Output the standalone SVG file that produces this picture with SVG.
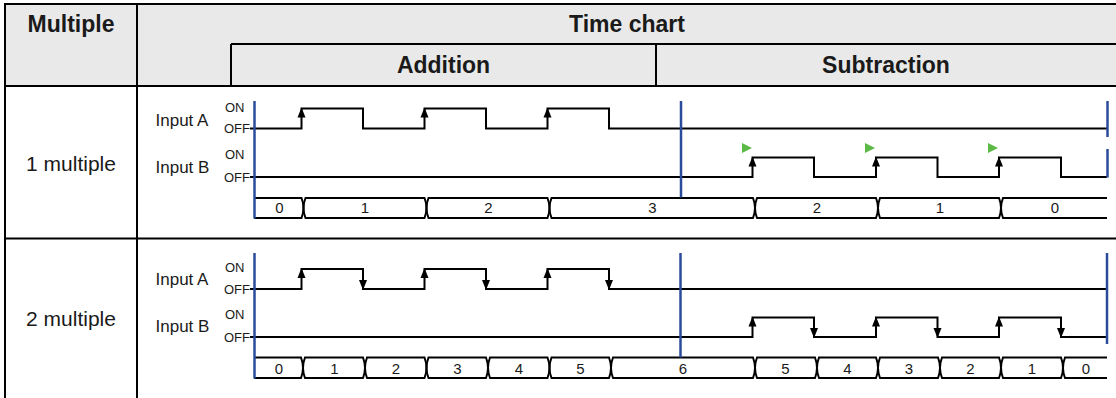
<svg xmlns="http://www.w3.org/2000/svg" xmlns:xlink="http://www.w3.org/1999/xlink" width="1116" height="398" viewBox="0 0 1116 398">
<style>
.grid{stroke:#000;stroke-width:2;fill:none}
.hdr{font-family:"Liberation Sans",Arial,sans-serif;font-weight:bold;font-size:23px;fill:#1a1a1a;text-anchor:middle}
.row{font-family:"Liberation Sans",Arial,sans-serif;font-size:21px;fill:#1a1a1a;text-anchor:middle}
.inp{font-family:"Liberation Sans",Arial,sans-serif;font-size:17px;fill:#1a1a1a}
.lvl{font-family:"Liberation Sans",Arial,sans-serif;font-size:13px;fill:#1a1a1a}
.num{font-family:"Liberation Sans",Arial,sans-serif;font-size:15px;fill:#1a1a1a;text-anchor:middle}
.wave{stroke:#000;stroke-width:2;fill:none;stroke-linejoin:miter}
.bus{stroke:#000;stroke-width:2;fill:none}
.blue{stroke:#2b4c9b;stroke-width:2.5;fill:none}
.arr{fill:#000}
.grn{fill:#5cb946}
</style>
<defs>
<path id="up" class="arr" d="M0,0 L-4,10 L4,10 Z"/>
<path id="dn" class="arr" d="M0,0 L-4,-10 L4,-10 Z"/>
<path id="gt" class="grn" d="M0,-5 L10,0 L0,5 Z"/>
</defs>

<g id="table">
<rect x="5" y="4" width="1112" height="82" fill="#e9e9e9"/>
<line class="grid" x1="4" y1="4" x2="1116" y2="4"/>
<line class="grid" x1="5" y1="4" x2="5" y2="398"/>
<line class="grid" x1="137" y1="4" x2="137" y2="398"/>
<line class="grid" x1="231" y1="44" x2="1116" y2="44"/>
<line class="grid" x1="231" y1="44" x2="231" y2="86"/>
<line class="grid" x1="656" y1="44" x2="656" y2="86"/>
<line class="grid" x1="4" y1="86" x2="1116" y2="86"/>
<line class="grid" x1="4" y1="238.5" x2="1116" y2="238.5"/>
</g>

<g id="header">
<text class="hdr" x="71" y="32">Multiple</text>
<text class="hdr" x="627" y="32">Time chart</text>
<text class="hdr" x="443.5" y="72.5">Addition</text>
<text class="hdr" x="886" y="72.5">Subtraction</text>
</g>

<g id="row1-labels">
<text class="row" x="71" y="170.5">1 multiple</text>
<text class="inp" x="155.5" y="125.7">Input A</text>
<text class="inp" x="155.5" y="172.7">Input B</text>
<text class="lvl" x="225" y="111.7">ON</text>
<text class="lvl" x="224" y="133.3">OFF</text>
<text class="lvl" x="225" y="159">ON</text>
<text class="lvl" x="224" y="181.7">OFF</text>
</g>

<g id="row2-labels">
<text class="row" x="71" y="326">2 multiple</text>
<text class="inp" x="155.5" y="285">Input A</text>
<text class="inp" x="155.5" y="331.7">Input B</text>
<text class="lvl" x="225" y="272.3">ON</text>
<text class="lvl" x="224" y="294">OFF</text>
<text class="lvl" x="225" y="319.3">ON</text>
<text class="lvl" x="224" y="341.7">OFF</text>
</g>

<g id="row1-chart">
<path class="wave" d="M250,128.5 H301.5 V108.5 H363 V128.5 H424.5 V108.5 H486 V128.5 H547.5 V108.5 H609 V128.5 H1107"/>
<path class="wave" d="M250,177 H752.5 V157.5 H814 V177 H876 V157.5 H937.5 V177 H999 V157.5 H1061 V177 H1107"/>
<use href="#up" x="301.5" y="107.5"/>
<use href="#up" x="424.5" y="107.5"/>
<use href="#up" x="547.5" y="107.5"/>
<use href="#up" x="752.5" y="156.5"/>
<use href="#up" x="876" y="156.5"/>
<use href="#up" x="999" y="156.5"/>
<use href="#gt" x="742" y="148"/>
<use href="#gt" x="865" y="148"/>
<use href="#gt" x="988" y="148"/>
<path class="bus" d="M254,198 H301.5 Q305.5,208 301.5,218 H254"/>
<path class="bus" d="M305.5,198 H424.5 Q428.5,208 424.5,218 H305.5 Q301.5,208 305.5,198 Z"/>
<path class="bus" d="M428.5,198 H547.5 Q551.5,208 547.5,218 H428.5 Q424.5,208 428.5,198 Z"/>
<path class="bus" d="M551.5,198 H753 Q757,208 753,218 H551.5 Q547.5,208 551.5,198 Z"/>
<path class="bus" d="M757,198 H876 Q880,208 876,218 H757 Q753,208 757,198 Z"/>
<path class="bus" d="M880,198 H999 Q1003,208 999,218 H880 Q876,208 880,198 Z"/>
<path class="bus" d="M1107,198 H1003 Q999,208 1003,218 H1107"/>
<text class="num" x="279.5" y="213.3">0</text>
<text class="num" x="365" y="213.3">1</text>
<text class="num" x="488.5" y="213.3">2</text>
<text class="num" x="652.5" y="213.3">3</text>
<text class="num" x="817" y="213.3">2</text>
<text class="num" x="940" y="213.3">1</text>
<text class="num" x="1055" y="213.3">0</text>
<line class="blue" x1="254.5" y1="101" x2="254.5" y2="218.5"/>
<line class="blue" x1="681" y1="101" x2="681" y2="197.5"/>
<line class="blue" x1="1107.5" y1="101" x2="1107.5" y2="137"/>
<line class="blue" x1="1107.5" y1="149" x2="1107.5" y2="177.5"/>
</g>

<g id="row2-chart">
<path class="wave" d="M250,289 H301.5 V269 H363 V289 H424.5 V269 H486 V289 H547.5 V269 H609 V289 H1107"/>
<path class="wave" d="M250,337 H752.5 V317.5 H814 V337 H876 V317.5 H937.5 V337 H999 V317.5 H1061 V337 H1107"/>
<use href="#up" x="301.5" y="268"/>
<use href="#up" x="424.5" y="268"/>
<use href="#up" x="547.5" y="268"/>
<use href="#dn" x="363" y="290"/>
<use href="#dn" x="486" y="290"/>
<use href="#dn" x="609" y="290"/>
<use href="#up" x="752.5" y="316.5"/>
<use href="#up" x="876" y="316.5"/>
<use href="#up" x="999" y="316.5"/>
<use href="#dn" x="814" y="338"/>
<use href="#dn" x="937.5" y="338"/>
<use href="#dn" x="1061" y="338"/>
<path class="bus" d="M254,357.5 H301 Q305,368 301,378 H254"/>
<path class="bus" d="M305,357.5 H363 Q367,368 363,378 H305 Q301,368 305,357.5 Z"/>
<path class="bus" d="M367,357.5 H424.5 Q428.5,368 424.5,378 H367 Q363,368 367,357.5 Z"/>
<path class="bus" d="M428.5,357.5 H486 Q490,368 486,378 H428.5 Q424.5,368 428.5,357.5 Z"/>
<path class="bus" d="M490,357.5 H547.5 Q551.5,368 547.5,378 H490 Q486,368 490,357.5 Z"/>
<path class="bus" d="M551.5,357.5 H609 Q613,368 609,378 H551.5 Q547.5,368 551.5,357.5 Z"/>
<path class="bus" d="M613,357.5 H753 Q757,368 753,378 H613 Q609,368 613,357.5 Z"/>
<path class="bus" d="M757,357.5 H815 Q819,368 815,378 H757 Q753,368 757,357.5 Z"/>
<path class="bus" d="M819,357.5 H876 Q880,368 876,378 H819 Q815,368 819,357.5 Z"/>
<path class="bus" d="M880,357.5 H938 Q942,368 938,378 H880 Q876,368 880,357.5 Z"/>
<path class="bus" d="M942,357.5 H999 Q1003,368 999,378 H942 Q938,368 942,357.5 Z"/>
<path class="bus" d="M1003,357.5 H1061 Q1065,368 1061,378 H1003 Q999,368 1003,357.5 Z"/>
<path class="bus" d="M1107,357.5 H1065 Q1061,368 1065,378 H1107"/>
<text class="num" x="279" y="373.5">0</text>
<text class="num" x="334.5" y="373.5">1</text>
<text class="num" x="396" y="373.5">2</text>
<text class="num" x="457.5" y="373.5">3</text>
<text class="num" x="519" y="373.5">4</text>
<text class="num" x="580.5" y="373.5">5</text>
<text class="num" x="683" y="373.5">6</text>
<text class="num" x="785.5" y="373.5">5</text>
<text class="num" x="847.5" y="373.5">4</text>
<text class="num" x="909" y="373.5">3</text>
<text class="num" x="970.5" y="373.5">2</text>
<text class="num" x="1032" y="373.5">1</text>
<text class="num" x="1086" y="373.5">0</text>
<line class="blue" x1="254.5" y1="253" x2="254.5" y2="378.5"/>
<line class="blue" x1="680.5" y1="253" x2="680.5" y2="357.5"/>
<line class="blue" x1="1107" y1="253" x2="1107" y2="344"/>
</g>
</svg>
